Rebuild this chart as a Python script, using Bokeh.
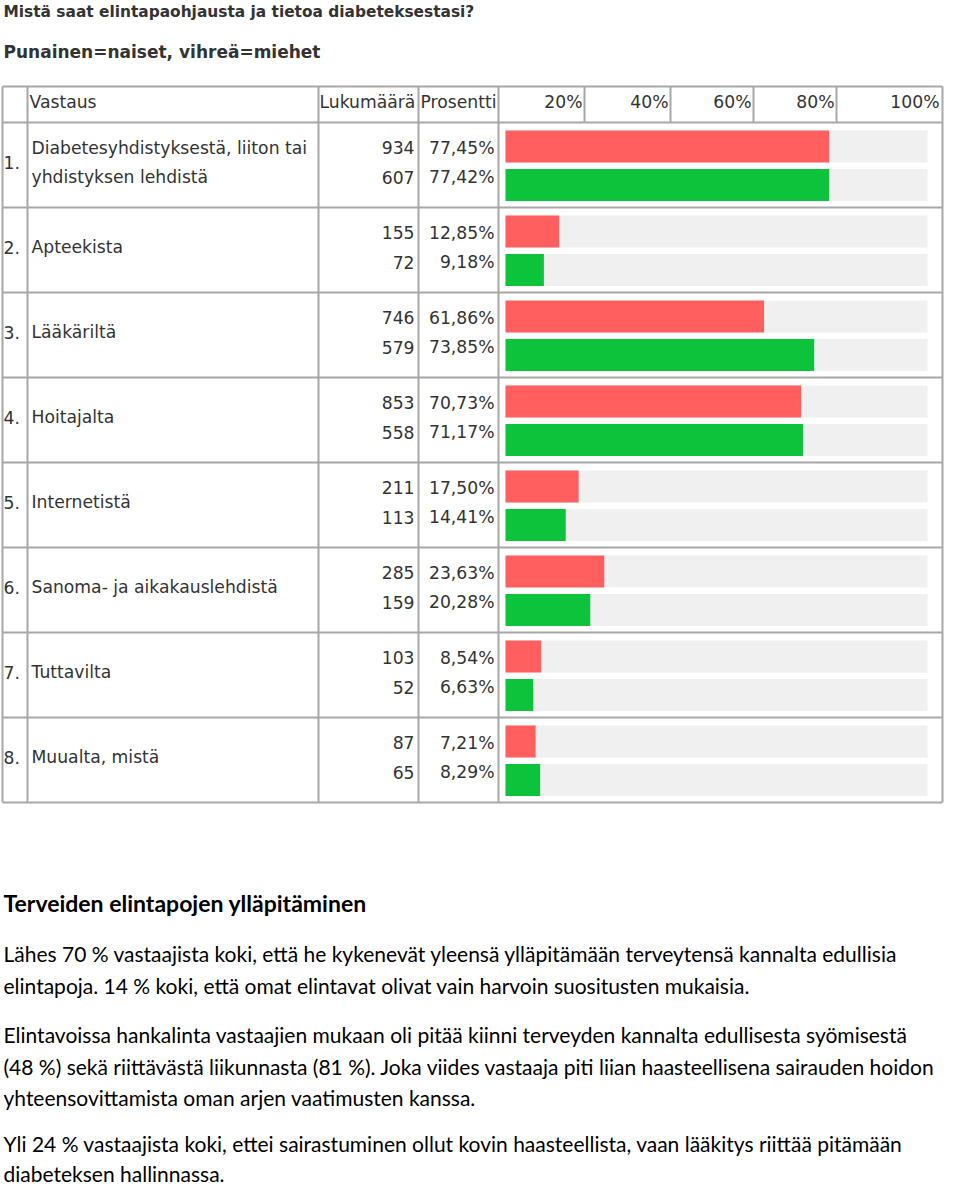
from bokeh.plotting import figure
from bokeh.models import Range1d, ColumnDataSource
from bokeh.core.properties import value
from bokeh.embed import file_html
from bokeh.resources import INLINE

# ---------------- data ----------------
title = "Mistä saat elintapaohjausta ja tietoa diabeteksestasi?"
subtitle = "Punainen=naiset, vihreä=miehet"
header = ["Vastaus", "Lukumäärä", "Prosentti"]
tick_labels = ["20%", "40%", "60%", "80%", "100%"]
numbers = ["1.", "2.", "3.", "4.", "5.", "6.", "7.", "8."]
categories = [
    ["Diabetesyhdistyksestä, liiton tai", "yhdistyksen lehdistä"],
    ["Apteekista"],
    ["Lääkäriltä"],
    ["Hoitajalta"],
    ["Internetistä"],
    ["Sanoma- ja aikakauslehdistä"],
    ["Tuttavilta"],
    ["Muualta, mistä"],
]
women_counts = [934, 155, 746, 853, 211, 285, 103, 87]
women_pct = [77.45, 12.85, 61.86, 70.73, 17.50, 23.63, 8.54, 7.21]
men_counts = [607, 72, 579, 558, 113, 159, 52, 65]
men_pct = [77.42, 9.18, 73.85, 71.17, 14.41, 20.28, 6.63, 8.29]

heading = "Terveiden elintapojen ylläpitäminen"
paragraphs = [
    ["Lähes 70 % vastaajista koki, että he kykenevät yleensä ylläpitämään terveytensä kannalta edullisia",
     "elintapoja. 14 % koki, että omat elintavat olivat vain harvoin suositusten mukaisia."],
    ["Elintavoissa hankalinta vastaajien mukaan oli pitää kiinni terveyden kannalta edullisesta syömisestä",
     "(48 %) sekä riittävästä liikunnasta (81 %). Joka viides vastaaja piti liian haasteellisena sairauden hoidon",
     "yhteensovittamista oman arjen vaatimusten kanssa."],
    ["Yli 24 % vastaajista koki, ettei sairastuminen ollut kovin haasteellista, vaan lääkitys riittää pitämään",
     "diabeteksen hallinnassa."],
]

# ---------------- layout / style ----------------
RED = "#FF5F5F"
GREEN = "#0DC33C"
BG = "#F0F0F0"
BORDER = "#A8A8A8"
TXT = "#333333"
TFONT = value("DejaVu Sans")
BFONT = value("Lato")
TSIZE = "17.2px"
BSIZE = "21px"

HEAD_TOP = 86
ROW0 = 122
ROW_H = 85
BAR_X0 = 505
PX_PER_PCT = 4.18
BG_X1 = 927
TABLE_L, TABLE_R = 2, 942
COL_X = [27, 318, 418, 498]
HEAD_COLS = [584, 670, 753, 836]

W, H = 944, 1185
p = figure(width=W, height=H, x_range=Range1d(0, W), y_range=Range1d(H, 0),
           output_backend="svg", toolbar_location=None, min_border=0,
           x_axis_type=None, y_axis_type=None)
p.grid.visible = False
p.outline_line_color = None
p.background_fill_color = "white"

n = len(categories)
tops = [ROW0 + ROW_H * i for i in range(n)]

# background bars
bg_src = ColumnDataSource(dict(
    left=[BAR_X0] * (2 * n), right=[BG_X1] * (2 * n),
    top=[t + 8 for t in tops] + [t + 46.5 for t in tops],
    bottom=[t + 40 for t in tops] + [t + 78.5 for t in tops]))
p.quad(left="left", right="right", top="top", bottom="bottom", source=bg_src,
       fill_color=BG, line_color=None)

# women bars
w_src = ColumnDataSource(dict(
    left=[BAR_X0] * n, right=[BAR_X0 + v * PX_PER_PCT for v in women_pct],
    top=[t + 8 for t in tops], bottom=[t + 40 for t in tops]))
p.quad(left="left", right="right", top="top", bottom="bottom", source=w_src,
       fill_color=RED, line_color=None)
# men bars
m_src = ColumnDataSource(dict(
    left=[BAR_X0] * n, right=[BAR_X0 + v * PX_PER_PCT for v in men_pct],
    top=[t + 46.5 for t in tops], bottom=[t + 78.5 for t in tops]))
p.quad(left="left", right="right", top="top", bottom="bottom", source=m_src,
       fill_color=GREEN, line_color=None)

# table borders
bottom_y = ROW0 + ROW_H * n
hy = [HEAD_TOP, ROW0] + [ROW0 + ROW_H * (i + 1) for i in range(n)]
p.segment(x0=[TABLE_L] * len(hy), x1=[TABLE_R] * len(hy), y0=hy, y1=hy,
          line_color=BORDER, line_width=2)
vx = [TABLE_L] + COL_X + [TABLE_R]
p.segment(x0=vx, x1=vx, y0=[HEAD_TOP] * len(vx), y1=[bottom_y] * len(vx),
          line_color=BORDER, line_width=2)
p.segment(x0=HEAD_COLS, x1=HEAD_COLS, y0=[HEAD_TOP] * 4, y1=[ROW0] * 4,
          line_color=BORDER, line_width=2)

# titles (y = visual centre of the text line)
p.text(x=[3], y=[11], text=[title], text_font=TFONT, text_font_size="15.4px",
       text_font_style="bold", text_color=TXT, text_baseline="alphabetic")
p.text(x=[3], y=[51], text=[subtitle], text_font=TFONT, text_font_size="17px",
       text_font_style="bold", text_color=TXT, text_baseline="alphabetic")

# header texts
HEAD_Y = 101
p.text(x=[29, 319, 420], y=[HEAD_Y] * 3, text=header, text_font=TFONT,
       text_font_size=TSIZE, text_color=TXT, text_baseline="alphabetic")
tick_right = [c - 2 for c in HEAD_COLS] + [TABLE_R - 3]
p.text(x=tick_right, y=[HEAD_Y] * 5, text=tick_labels, text_font=TFONT,
       text_font_size=TSIZE, text_color=TXT, text_align="right", text_baseline="alphabetic")

# row texts
num_y, lab_x, lab_y, lab_t = [], [], [], []
for i, t in enumerate(tops):
    num_y.append(t + 40)
    lines = categories[i]
    if len(lines) == 1:
        lab_x.append(31); lab_y.append(t + 39.5); lab_t.append(lines[0])
    else:
        for j, s in enumerate(lines):
            lab_x.append(31); lab_y.append(t + 25 + 29 * j); lab_t.append(s)
p.text(x=[3] * n, y=num_y, text=numbers, text_font=TFONT, text_font_size=TSIZE,
       text_color=TXT, text_baseline="alphabetic")
p.text(x=lab_x, y=lab_y, text=lab_t, text_font=TFONT, text_font_size=TSIZE,
       text_color=TXT, text_baseline="alphabetic")

fmt = lambda v: ("%.2f" % v).replace(".", ",") + "%"
cnt_y = [t + 25 for t in tops] + [t + 54.5 for t in tops]
p.text(x=[414] * (2 * n), y=cnt_y, text=[str(c) for c in women_counts + men_counts],
       text_font=TFONT, text_font_size=TSIZE, text_color=TXT, text_align="right",
       text_baseline="alphabetic")
p.text(x=[494] * (2 * n), y=cnt_y, text=[fmt(v) for v in women_pct + men_pct],
       text_font=TFONT, text_font_size=TSIZE, text_color=TXT, text_align="right",
       text_baseline="alphabetic")

# bottom text
p.text(x=[3], y=[902], text=[heading], text_font=BFONT, text_font_size="23px",
       text_font_style="bold", text_color="black", text_baseline="alphabetic")
para_y = [[953, 985], [1034, 1066, 1097], [1143, 1173]]
bx, by, bt = [], [], []
for lines, ys in zip(paragraphs, para_y):
    for s, y in zip(lines, ys):
        bx.append(3); by.append(y); bt.append(s)
p.text(x=bx, y=by, text=bt, text_font=BFONT, text_font_size=BSIZE,
       text_color="black", text_baseline="alphabetic")

open("out.html", "w").write(file_html(p, INLINE))
